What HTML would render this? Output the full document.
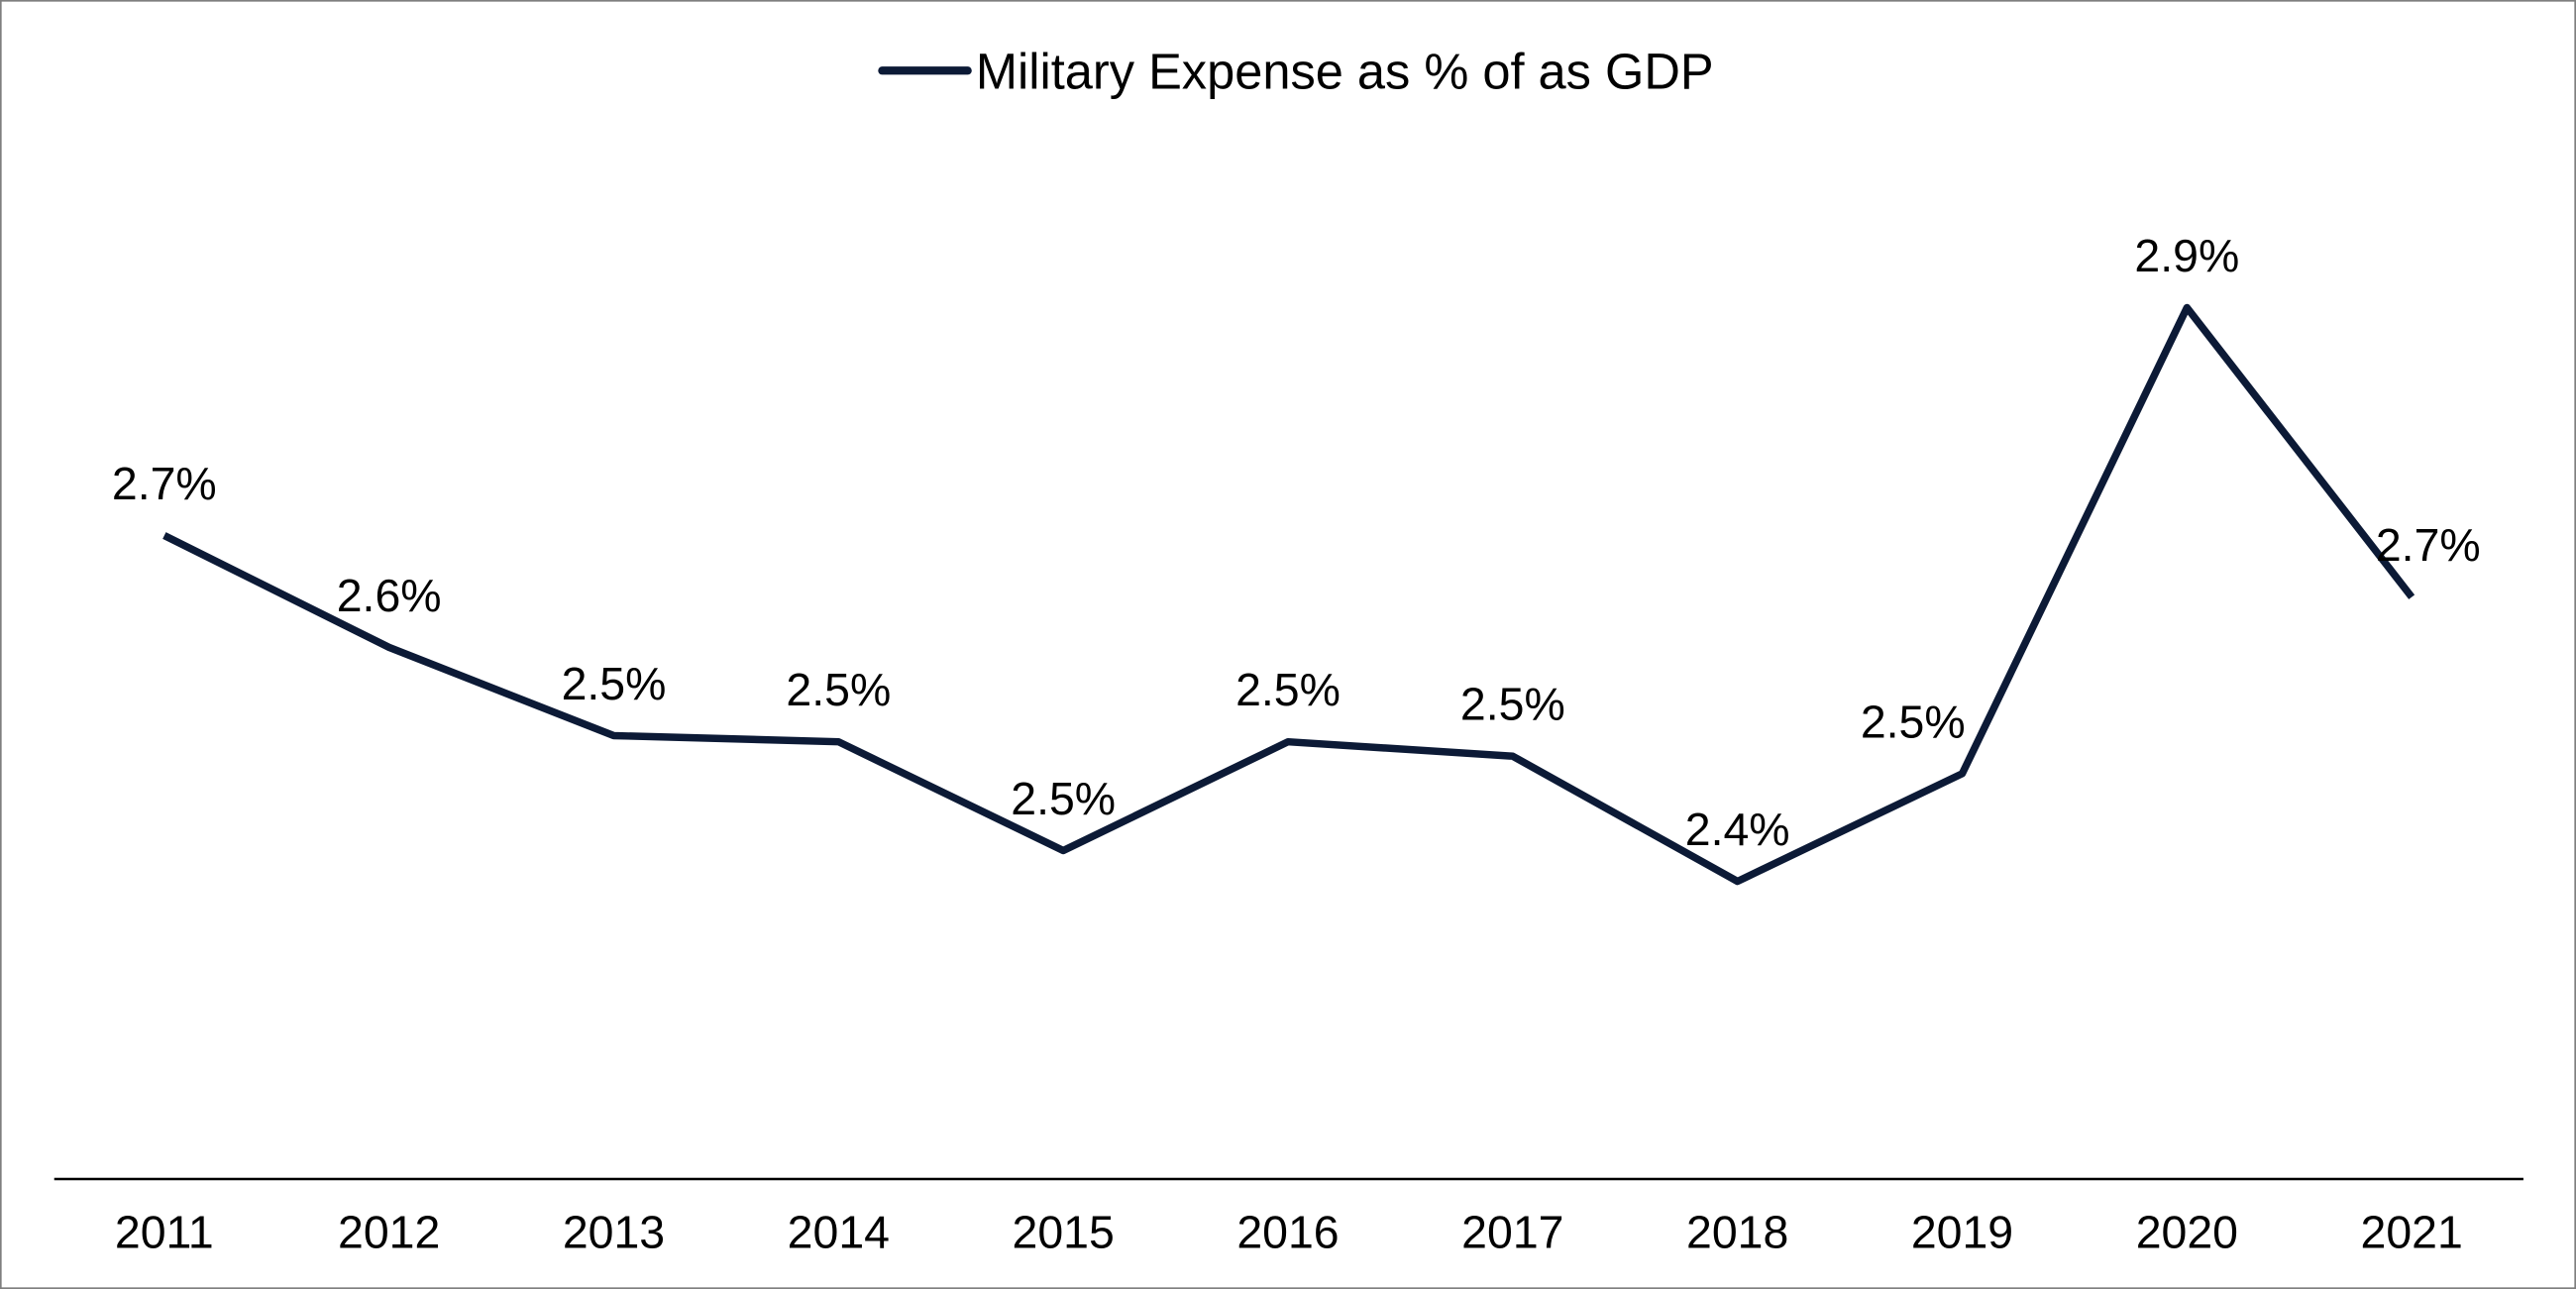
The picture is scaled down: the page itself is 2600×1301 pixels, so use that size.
<!DOCTYPE html>
<html><head><meta charset="utf-8"><style>
html,body{margin:0;padding:0;background:#fff;}
svg{display:block;font-family:"Liberation Sans",Arial,sans-serif;}
</style></head><body>
<svg width="2600" height="1301" viewBox="0 0 1568 785" preserveAspectRatio="none" xmlns="http://www.w3.org/2000/svg">
<rect x="0.5" y="0.5" width="1567" height="784" fill="#fff" stroke="#7f7f7f" stroke-width="1"/>
<g>
<line x1="537" y1="43" x2="589" y2="43" stroke="#0c1a36" stroke-width="5" stroke-linecap="round"/>
<text x="594" y="54" font-size="30.5" fill="#000">Military Expense as % of as GDP</text>
</g>
<line x1="33" y1="718" x2="1536" y2="718" stroke="#000" stroke-width="1.5"/>
<g id="ticks"></g>
<g id="series"></g>
<g id="labels"></g>
</svg>
<script>
const categories = ["2011","2012","2013","2014","2015","2016","2017","2018","2019","2020","2021"];
const values = [2.727, 2.618, 2.532, 2.526, 2.42, 2.526, 2.512, 2.39, 2.495, 2.949, 2.667];
const valueLabels = ["2.7%","2.6%","2.5%","2.5%","2.5%","2.5%","2.5%","2.4%","2.5%","2.9%","2.7%"];
const NS = "http://www.w3.org/2000/svg";
function xPos(i){ return 100 + i*136.8; }
function yPos(v){ return 718 - (v-2.1)*625; }
const ticks = document.getElementById('ticks');
const series = document.getElementById('series');
const labels = document.getElementById('labels');
categories.forEach((c,i)=>{
  const t = document.createElementNS(NS,'text');
  
  
  t.setAttribute('x', xPos(i)); t.setAttribute('y', 760);
  t.setAttribute('text-anchor','middle'); t.setAttribute('font-size','28');
  t.textContent = c; ticks.appendChild(t);
});
const pl = document.createElementNS(NS,'polyline');


pl.setAttribute('points', values.map((v,i)=>xPos(i)+','+yPos(v)).join(' '));
pl.setAttribute('fill','none'); pl.setAttribute('stroke','#0c1a36');
pl.setAttribute('stroke-width','4.5'); pl.setAttribute('stroke-linejoin','round');
series.appendChild(pl);
values.forEach((v,i)=>{
  const t = document.createElementNS(NS,'text');
  
  
  let dx = 0;
  if(i===10) dx = 10;
  if(i===8) dx = -30;
  t.setAttribute('x', xPos(i)+dx); t.setAttribute('y', yPos(v)-22);
  t.setAttribute('text-anchor','middle'); t.setAttribute('font-size','28');
  t.textContent = valueLabels[i]; labels.appendChild(t);
});
</script>
</body></html>
